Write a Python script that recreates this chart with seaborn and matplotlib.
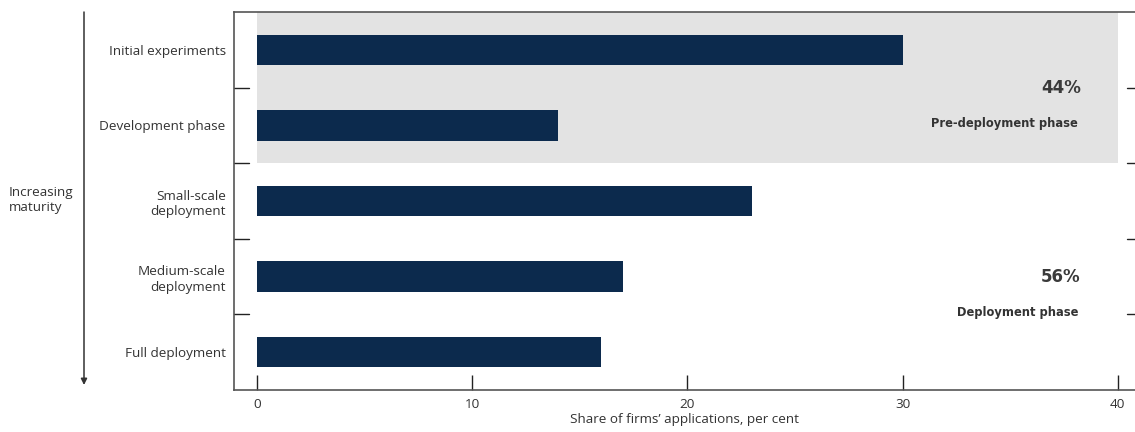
import matplotlib
matplotlib.use("Agg")
import matplotlib.pyplot as plt
import seaborn as sns
import pandas as pd

# Data
stages = ["Initial experiments", "Development phase", "Small-scale\ndeployment",
          "Medium-scale\ndeployment", "Full deployment"]
shares = [30, 14, 23, 17, 16]
phase_labels = ["Pre-deployment phase", "Deployment phase"]
phase_totals = ["44%", "56%"]
x_ticks = [0, 10, 20, 30, 40]

sns.set_theme(style="white")
plt.rcParams['font.family'] = ['Open Sans', 'DejaVu Sans']

navy = "#0c2a4d"
text_col = "#333333"
spine_col = "#555555"
fs = 9.7

df = pd.DataFrame({"stage": stages, "share": shares})

fig = plt.figure(figsize=(11.35, 4.32), dpi=100)
ax = fig.add_axes([234 / 1135, 42 / 432, 901 / 1135, 378 / 432])

# shaded pre-deployment block
ax.fill_between([0, 40], -0.5, 1.5, color="#e3e3e3", zorder=0, linewidth=0)

sns.barplot(data=df, x="share", y="stage", orient="h", color=navy,
            width=0.4, saturation=1, linewidth=0, ax=ax, zorder=2)

ax.set_xlim(-1.07, 40.8)
ax.set_ylim(4.5, -0.5)

# spines
for side in ["left", "bottom", "top"]:
    ax.spines[side].set_color(spine_col)
    ax.spines[side].set_linewidth(1.2)
ax.spines["right"].set_visible(False)

# x ticks inward
ax.set_xticks(x_ticks)
ax.tick_params(axis="x", direction="in", length=11, width=1, color="#222222",
               labelsize=fs, labelcolor=text_col, pad=6, bottom=True)
ax.set_xlabel("Share of firms\u2019 applications, per cent", fontsize=fs,
              color=text_col, labelpad=1)

# y labels at category centres, tick marks at boundaries
ax.set_yticks(range(len(stages)))
ax.set_yticklabels(stages, fontsize=fs, color=text_col, linespacing=1.25)
ax.tick_params(axis="y", length=0, pad=6)
ax.set_ylabel("")
for b in [0.5, 1.5, 2.5, 3.5]:
    ax.plot([0, 15 / 901], [b, b], transform=ax.get_yaxis_transform(),
            color="#222222", lw=1, clip_on=False)
    ax.plot([1 - 8 / 901, 1], [b, b], transform=ax.get_yaxis_transform(),
            color="#222222", lw=1, clip_on=False)

# phase annotations
ann_font = ["DejaVu Sans"]
for yc, tot, lab in [(0.5, phase_totals[0], phase_labels[0]),
                     (3.0, phase_totals[1], phase_labels[1])]:
    ax.text(38.28, yc, tot, ha="right", va="center", fontsize=12,
            fontweight="bold", family=ann_font, color="#3a3a3a")
    ax.text(38.15, yc + 0.47, lab, ha="right", va="center", fontsize=8.3,
            fontweight="bold", family=ann_font, color=text_col)

# "Increasing maturity" arrow
fig.text(9 / 1135, 1 - 200 / 432, "Increasing\nmaturity", ha="left", va="center",
         fontsize=fs, color=text_col, linespacing=1.25)
ax_arrow = fig.add_axes([0, 0, 1, 1], facecolor="none")
ax_arrow.set_axis_off()
ax_arrow.set_xlim(0, 1135)
ax_arrow.set_ylim(432, 0)
ax_arrow.annotate("", xy=(84, 385), xytext=(84, 12),
                  arrowprops=dict(arrowstyle="-|>", color="#333333", lw=1.1,
                                  mutation_scale=9, shrinkA=0, shrinkB=0))

fig.savefig("out.png", dpi=100)
